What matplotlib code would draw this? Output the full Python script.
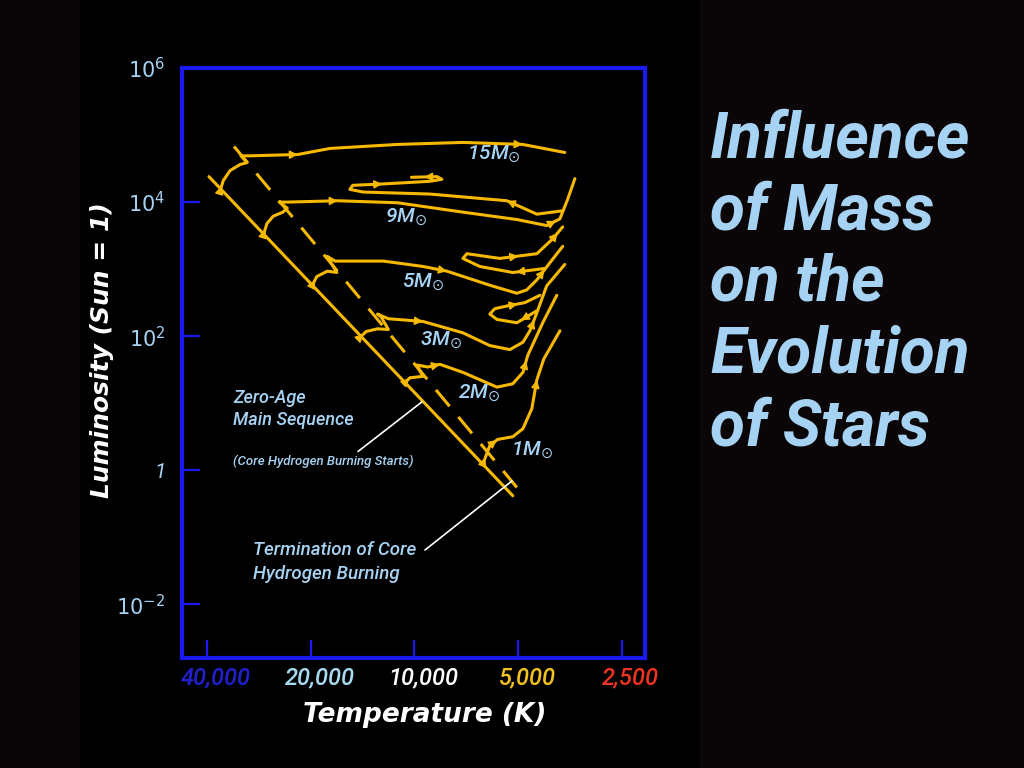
"""Influence of mass on the evolution of stars: schematic H-R diagram."""

import numpy as np
import matplotlib

matplotlib.use("Agg")
import matplotlib.pyplot as plt
from matplotlib.patches import Rectangle
from matplotlib.ticker import NullLocator
from matplotlib.transforms import ScaledTranslation

# ---- data (temperature in K, log10 luminosity in solar units) ----
zams_T = [39500, 5180]
zams_logL = [4.38, -0.38]
tams_T = [33400, 4940]
tams_logL = [4.83, -0.31]

m15_T = [36700, 35900, 34300, 32100, 30600, 31900, 30000, 21800, 17600, 11200, 7230, 4850, 3660]
m15_logL = [4.16, 4.32, 4.47, 4.56, 4.59, 4.69, 4.69, 4.71, 4.80, 4.86, 4.89, 4.86, 4.74]

m9_T = [27500, 26800, 25700, 24100, 23400, 24700, 23300, 16700, 11200, 7230, 5040, 4130, 3780, 3590, 3420]
m9_logL = [3.50, 3.68, 3.79, 3.85, 3.91, 4.00, 4.00, 4.02, 3.99, 3.85, 3.74, 3.65, 3.75, 4.04, 4.35]
m9_loop_T = [3710, 4410, 5390, 9020, 14100, 15400, 15100, 12400, 9020, 8320, 8600, 10200]
m9_loop_logL = [3.87, 3.82, 4.02, 4.12, 4.15, 4.19, 4.25, 4.27, 4.31, 4.34, 4.38, 4.37]

m5_T = [19800, 19200, 17900, 16800, 17900, 17000, 15400, 12300, 9450, 8050, 6040, 5040, 4720, 4410, 4050, 3710]
m5_logL = [2.76, 2.89, 2.97, 2.95, 3.19, 3.12, 3.12, 3.12, 3.04, 2.97, 2.76, 2.64, 2.69, 2.84, 3.09, 3.34]
m5_loop_T = [4180, 5180, 6460, 7230, 7040, 5650, 4410, 3970, 3710]
m5_loop_logL = [3.01, 2.95, 3.04, 3.16, 3.23, 3.16, 3.23, 3.45, 3.63]

m3_T = [14400, 13800, 12800, 11900, 12500, 12800, 11900, 9450, 7230, 6040, 5280, 4840, 4620, 4410, 4130, 3660]
m3_logL = [1.98, 2.07, 2.11, 2.10, 2.29, 2.33, 2.26, 2.22, 2.05, 1.86, 1.80, 1.91, 2.08, 2.35, 2.75, 3.07]
m3_loop_T = [4410, 5040, 5760, 6040, 5840, 5390, 4780, 4320]
m3_loop_logL = [2.38, 2.20, 2.25, 2.33, 2.41, 2.45, 2.50, 2.61]

m2_T = [10700, 10300, 9450, 9840, 9140, 8430, 7230, 5760, 5180, 4840, 4690, 4240, 3860]
m2_logL = [1.30, 1.38, 1.40, 1.57, 1.54, 1.58, 1.46, 1.24, 1.29, 1.46, 1.71, 2.20, 2.61]

m1_T = [6330, 6160, 6040, 5730, 5180, 4840, 4560, 4410, 4210, 3780]
m1_logL = [0.09, 0.25, 0.37, 0.46, 0.50, 0.62, 0.92, 1.35, 1.66, 2.08]

x_ticks = [40000, 20000, 10000, 5000, 2500]
x_tick_labels = ["40,000", "20,000", "10,000", "5,000", "2,500"]
y_ticks = [1e6, 1e4, 1e2, 1, 1e-2]
y_tick_labels = ["$10^{6}$", "$10^{4}$", "$10^{2}$", "1", "$10^{-2}$"]

mass_labels = ["15M", "9M", "5M", "3M", "2M", "1M"]

# ---- style ----
OUTER_BG = "#0a0506"
FRAME = "#1a1aee"
TRACK = "#f7b800"
LIGHT_BLUE = "#a6d3f3"
TICK_COLORS = ["#2020d0", "#a8daf2", "#ffffff", "#f2c21e", "#ee3322"]
TRACK_LW = 2.2
TEXT_FAMILY = ["Roboto", "DejaVu Sans"]

plt.rcParams["mathtext.fontset"] = "dejavusans"
plt.rcParams["mathtext.default"] = "it"

fig = plt.figure(figsize=(10.24, 7.68), dpi=100, facecolor=OUTER_BG)
fig.patches.append(Rectangle((80 / 1024, 0), 620 / 1024, 1, transform=fig.transFigure,
                             facecolor="black", edgecolor="none", zorder=-1))
ax = fig.add_axes([182 / 1024, 110 / 768, 463 / 1024, 590 / 768])
ax.set_zorder(1)
ax.set_facecolor("black")
ax.set_xscale("log")
ax.set_yscale("log")
ax.set_xlim(47300, 2140)
ax.set_ylim(10 ** -2.8, 1e6)


def draw_track(T, logL, dashed=False):
    L = 10 ** np.asarray(logL)
    kw = dict(color=TRACK, lw=TRACK_LW, solid_joinstyle="round", solid_capstyle="round", zorder=3)
    if dashed:
        kw["linestyle"] = (0, (7, 4.5))
    ax.plot(T, L, **kw)


def add_arrow(T, logL, seg, frac):
    lt = np.log10(T)
    ll = np.asarray(logL)
    f0 = max(frac - 0.08, 0.0)
    x0 = lt[seg] + (lt[seg + 1] - lt[seg]) * f0
    y0 = ll[seg] + (ll[seg + 1] - ll[seg]) * f0
    x1 = lt[seg] + (lt[seg + 1] - lt[seg]) * frac
    y1 = ll[seg] + (ll[seg + 1] - ll[seg]) * frac
    ax.annotate("", xy=(10 ** x1, 10 ** y1), xytext=(10 ** x0, 10 ** y0),
                arrowprops=dict(arrowstyle="-|>,head_length=0.55,head_width=0.28",
                                color=TRACK, lw=1.0, shrinkA=0, shrinkB=0,
                                mutation_scale=9), zorder=4)


draw_track(zams_T, zams_logL)
draw_track(tams_T, tams_logL, dashed=True)

tracks = [
    (m15_T, m15_logL, [(0, 0.5), (6, 1.0), (10, 1.0)]),
    (m9_T, m9_logL, [(0, 0.5), (6, 1.0), (11, 0.7)]),
    (m9_loop_T, m9_loop_logL, [(1, 1.0), (6, 1.0), (10, 0.5)]),
    (m5_T, m5_logL, [(0, 0.6), (8, 1.0), (13, 0.6)]),
    (m5_loop_T, m5_loop_logL, [(0, 0.9), (5, 0.5), (7, 0.5)]),
    (m3_T, m3_logL, [(0, 0.6), (6, 1.0), (12, 0.6)]),
    (m3_loop_T, m3_loop_logL, [(0, 0.8), (5, 0.6)]),
    (m2_T, m2_logL, [(0, 0.9), (4, 1.0), (9, 0.7)]),
    (m1_T, m1_logL, [(0, 0.6), (2, 0.9), (6, 1.0)]),
]
for T, logL, arrows in tracks:
    draw_track(T, logL)
    for seg, frac in arrows:
        add_arrow(T, logL, seg, frac)

# mass labels (axes fraction positions)
label_pos = [(0.616, 0.853), (0.438, 0.746), (0.475, 0.637),
             (0.514, 0.539), (0.596, 0.449), (0.711, 0.351)]
for name, (lx, ly) in zip(mass_labels, label_pos):
    ax.text(lx, ly, name + r"$_{\odot}$", transform=ax.transAxes, color=LIGHT_BLUE,
            fontsize=15, fontstyle="italic", fontweight="medium", family=TEXT_FAMILY,
            ha="left", va="center", zorder=5)

# annotations
note_kw = dict(transform=ax.transAxes, color=LIGHT_BLUE, fontstyle="italic",
               family=TEXT_FAMILY, fontweight="medium", ha="left", va="center")
ax.text(0.110, 0.441, "Zero-Age", fontsize=13, **note_kw)
ax.text(0.110, 0.403, "Main Sequence", fontsize=13, **note_kw)
ax.text(0.110, 0.334, "(Core Hydrogen Burning Starts)", fontsize=9.5, **note_kw)
ax.text(0.153, 0.183, "Termination of Core", fontsize=13.5, **note_kw)
ax.text(0.153, 0.142, "Hydrogen Burning", fontsize=13.5, **note_kw)

ax.annotate("", xy=(9510, 10 ** 1.02), xytext=(14580, 10 ** 0.28),
            arrowprops=dict(arrowstyle="-", color="white", lw=1.2, shrinkA=0, shrinkB=0))
ax.annotate("", xy=(5210, 10 ** -0.16), xytext=(9320, 10 ** -1.19),
            arrowprops=dict(arrowstyle="-", color="white", lw=1.2, shrinkA=0, shrinkB=0))

# axes frame and ticks
for sp in ax.spines.values():
    sp.set_color(FRAME)
    sp.set_linewidth(3)
ax.xaxis.set_minor_locator(NullLocator())
ax.yaxis.set_minor_locator(NullLocator())
ax.set_xticks(x_ticks)
ax.set_xticklabels(x_tick_labels)
ax.set_yticks(y_ticks)
ax.set_yticklabels(y_tick_labels)
ax.tick_params(axis="both", direction="in", length=13, width=1.6, color=FRAME)
ax.tick_params(axis="x", pad=6, labelsize=17)
ax.tick_params(axis="y", pad=12, labelsize=15, labelcolor=LIGHT_BLUE)
shift = ScaledTranslation(9 / 100, 0, fig.dpi_scale_trans)
for lab, c in zip(ax.get_xticklabels(), TICK_COLORS):
    lab.set_color(c)
    lab.set_fontstyle("italic")
    lab.set_family(TEXT_FAMILY)
    lab.set_fontweight("medium")
    lab.set_transform(lab.get_transform() + shift)
for lab in ax.get_yticklabels():
    lab.set_fontstyle("italic")
    lab.set_family(TEXT_FAMILY)

fig.text(102 / 1024, 1 - 350 / 768, "Luminosity (Sun = 1)", rotation=90, color="white",
         fontsize=18, fontweight="bold", fontstyle="italic", ha="center", va="center")
fig.text(425 / 1024, 1 - 715 / 768, "Temperature (K)", color="white",
         fontsize=19, fontweight="bold", fontstyle="italic", ha="center", va="center")

title_lines = ["Influence", "of Mass", "on the", "Evolution", "of Stars"]
for i, line in enumerate(title_lines):
    fig.text(710 / 1024, 1 - (157 + 72 * i) / 768, line, color=LIGHT_BLUE,
             fontsize=46, fontweight="bold", fontstyle="italic",
             family=TEXT_FAMILY, ha="left", va="baseline")

fig.savefig("out.png", dpi=100, facecolor=fig.get_facecolor())
